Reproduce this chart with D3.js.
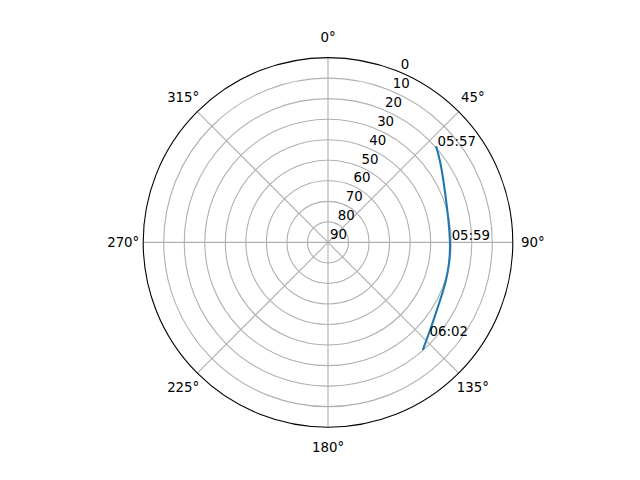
<!DOCTYPE html>
<html><head><meta charset="utf-8">
<script src="https://cdn.jsdelivr.net/npm/d3@7"></script>
<style>body{margin:0;background:#fff}svg{display:block}text{font-family:"DejaVu Sans",sans-serif;font-size:13.33px;fill:#000}</style>
</head><body><svg id="c" width="640" height="480"></svg>
<script>
// Data
const azimuth   = [48.3, 53.7, 61.6, 70.2, 79.5, 88.9, 96.6, 104.4, 110.9, 117.2, 123.4, 129.2, 133.1, 138.6];
const elevation = [19.5, 22.3, 26.1, 28.9, 30.3, 30.5, 30.2, 29.8, 29.3, 28.6, 27.1, 25.1, 23.3, 20.2];
const timeLabels = ["05:57", "", "", "", "", "05:59", "", "", "", "", "", "", "06:02", ""];
const thetaTicks = [0, 45, 90, 135, 180, 225, 270, 315];
const rTicks = [0, 10, 20, 30, 40, 50, 60, 70, 80, 90];

const svg = d3.select("#c");
svg.append("rect").attr("width",640).attr("height",480).attr("fill","#fff");
const cx = 328, cy = 242.4, R = 184.8;
const g = svg.append("g").attr("transform",`translate(${cx},${cy})`);
const r = d3.scaleLinear().domain([90,0]).range([0,R]);
const rad = d => d*Math.PI/180;

// circular grid
g.selectAll("circle.grid").data(rTicks.filter(v=>v>0&&v<90)).join("circle")
  .attr("r", d=>r(d)).attr("fill","none").attr("stroke","#b0b0b0").attr("stroke-width",1.1);
// angular grid
g.selectAll("line.grid").data(thetaTicks).join("line")
  .attr("x1",0).attr("y1",0)
  .attr("x2",d=>R*Math.sin(rad(d))).attr("y2",d=>-R*Math.cos(rad(d)))
  .attr("stroke","#b0b0b0").attr("stroke-width",1.1);

// data line
const pts = azimuth.map((a,i)=>({a, e:elevation[i], t:timeLabels[i]}));
const line = d3.lineRadial().angle(d=>rad(d.a)).radius(d=>r(d.e)).curve(d3.curveBasis);
g.append("path").datum(pts).attr("d",line).attr("fill","none")
  .attr("stroke","#1f77b4").attr("stroke-width",2.08);

// spine
g.append("circle").attr("r",R).attr("fill","none").attr("stroke","#000").attr("stroke-width",1.1);

// time labels
g.selectAll("text.tl").data(pts.filter(d=>d.t)).join("text")
  .attr("x",d=>r(d.e)*Math.sin(rad(d.a))+1.5).attr("y",d=>-r(d.e)*Math.cos(rad(d.a)))
  .text(d=>d.t);

// theta labels
g.selectAll("text.th").data(thetaTicks).join("text")
  .attr("x",d=>(R+20)*Math.sin(rad(d))).attr("y",d=>-(R+20)*Math.cos(rad(d)))
  .attr("text-anchor","middle").attr("dominant-baseline","central")
  .text(d=>d+"°");

// r labels
const la = rad(22.5);
g.selectAll("text.rl").data(rTicks).join("text")
  .attr("x",d=>r(d)*Math.sin(la)+2).attr("y",d=>-r(d)*Math.cos(la)-3)
  .text(d=>d);
</script></body></html>
